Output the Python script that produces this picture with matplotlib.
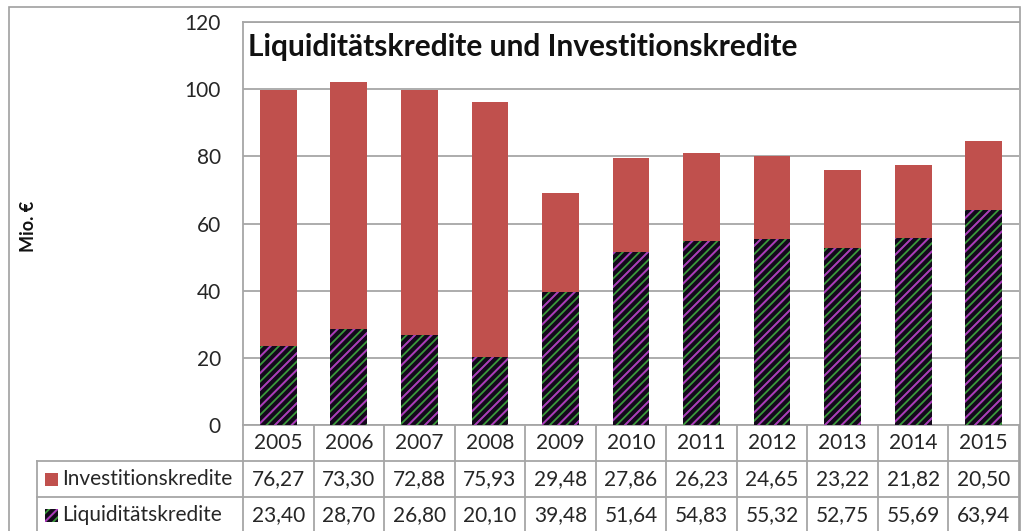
import matplotlib
matplotlib.use("Agg")
import matplotlib.pyplot as plt
from matplotlib.patches import Rectangle
from matplotlib.lines import Line2D
import matplotlib.transforms as mtransforms

years = ["2005", "2006", "2007", "2008", "2009", "2010", "2011", "2012", "2013", "2014", "2015"]
invest = [76.27, 73.30, 72.88, 75.93, 29.48, 27.86, 26.23, 24.65, 23.22, 21.82, 20.50]
liquid = [23.40, 28.70, 26.80, 20.10, 39.48, 51.64, 54.83, 55.32, 52.75, 55.69, 63.94]
series_names = ["Investitionskredite", "Liquiditätskredite"]
yticks = [0, 20, 40, 60, 80, 100, 120]
title = "Liquiditätskredite und Investitionskredite"
ylabel = "Mio. €"

def fmt(v):
    return f"{v:.2f}".replace(".", ",")

W, H = 1021, 531
fig = plt.figure(figsize=(W / 100, H / 100), dpi=100)
plt.rcParams['font.family'] = ['Lato', 'DejaVu Sans']
plt.rcParams['hatch.linewidth'] = 1.3

RED = "#C0504D"
GRID = "#A6A6A6"
TXT = "#262626"
DARK = "#14081c"
HG = "#3a9a3a"
HM = "#b030c0"
FS = 15

# outer frame
fig.patches.append(Rectangle((9 / W, -0.05), (1019.5 - 9) / W, (H - 7) / H + 0.05,
                             transform=fig.transFigure, fill=False, edgecolor="#A0A0A0", lw=1.2))

axl, axr, axb, axt = 243, 1019, 425, 22
ax = fig.add_axes([axl / W, (H - axb) / H, (axr - axl) / W, (axb - axt) / H])
n = len(years)
x = list(range(n))
bw = 0.52

ax.bar(x, liquid, width=bw, color=DARK, edgecolor=HG, hatch="////", linewidth=0, zorder=3)
ax.bar(x, liquid, width=bw, color="none", edgecolor=HM, hatch="//", linewidth=0, zorder=3)
ax.bar(x, invest, bottom=liquid, width=bw, color=RED, linewidth=0, zorder=3)

ax.set_xlim(-0.5, n - 0.5)
ax.set_ylim(0, 120)
ax.set_yticks(yticks)
ax.set_yticklabels([str(t) for t in yticks], fontsize=FS, color=TXT)
ax.tick_params(axis="y", length=0, pad=16)
ax.set_xticks([])
ax.yaxis.grid(True, color=GRID, lw=1.3, zorder=0)
for s in ["left", "top"]:
    ax.spines[s].set_color(GRID)
    ax.spines[s].set_linewidth(1.3)
ax.spines["right"].set_visible(False)
ax.spines["bottom"].set_visible(False)

ax.text(0.006, 0.938, title, transform=ax.transAxes, fontsize=21.5, fontweight="bold",
        color="#111111", va="center", ha="left", zorder=5)

fig.text(28 / W, 1 - 226 / H, ylabel, rotation=90, fontsize=13, fontweight="bold",
         va="center", ha="center", color="#111111")

# table (y in axes fraction)
ph = axb - axt
def ay(ypix):
    return (axb - ypix) / ph
left_lab = (37 - axl) / (axr - axl)
blend = mtransforms.blended_transform_factory(ax.transData, ax.transAxes)
lkw = dict(color=GRID, lw=1.3, clip_on=False)
ax.add_line(Line2D([0, 1], [ay(425)] * 2, transform=ax.transAxes, **lkw))
for yp in [461, 497]:
    ax.add_line(Line2D([left_lab, 1], [ay(yp)] * 2, transform=ax.transAxes, **lkw))
for b in range(n + 1):
    ax.add_line(Line2D([b - 0.5] * 2, [ay(425), ay(540)], transform=blend, **lkw))
ax.add_line(Line2D([left_lab] * 2, [ay(461), ay(540)], transform=ax.transAxes, **lkw))

for i in range(n):
    ax.text(i, ay(443), years[i], transform=blend, ha="center", va="center", fontsize=FS, color=TXT, clip_on=False)
    ax.text(i, ay(479), fmt(invest[i]), transform=blend, ha="center", va="center", fontsize=FS, color=TXT, clip_on=False)
    ax.text(i, ay(515), fmt(liquid[i]), transform=blend, ha="center", va="center", fontsize=FS, color=TXT, clip_on=False)

sq = 13
for k, (yc, name) in enumerate([(479, series_names[0]), (515, series_names[1])]):
    x0 = 45
    if k == 0:
        fig.patches.append(Rectangle((x0 / W, 1 - (yc + sq / 2) / H), sq / W, sq / H,
                                     transform=fig.transFigure, facecolor=RED, lw=0))
    else:
        fig.patches.append(Rectangle((x0 / W, 1 - (yc + sq / 2) / H), sq / W, sq / H,
                                     transform=fig.transFigure, facecolor=DARK,
                                     edgecolor=HG, hatch="////", lw=0))
        fig.patches.append(Rectangle((x0 / W, 1 - (yc + sq / 2) / H), sq / W, sq / H,
                                     transform=fig.transFigure, facecolor="none",
                                     edgecolor=HM, hatch="//", lw=0))
    fig.text(62 / W, 1 - yc / H, name, fontsize=FS, color=TXT, va="center", ha="left")

fig.savefig("out.png", dpi=100)
